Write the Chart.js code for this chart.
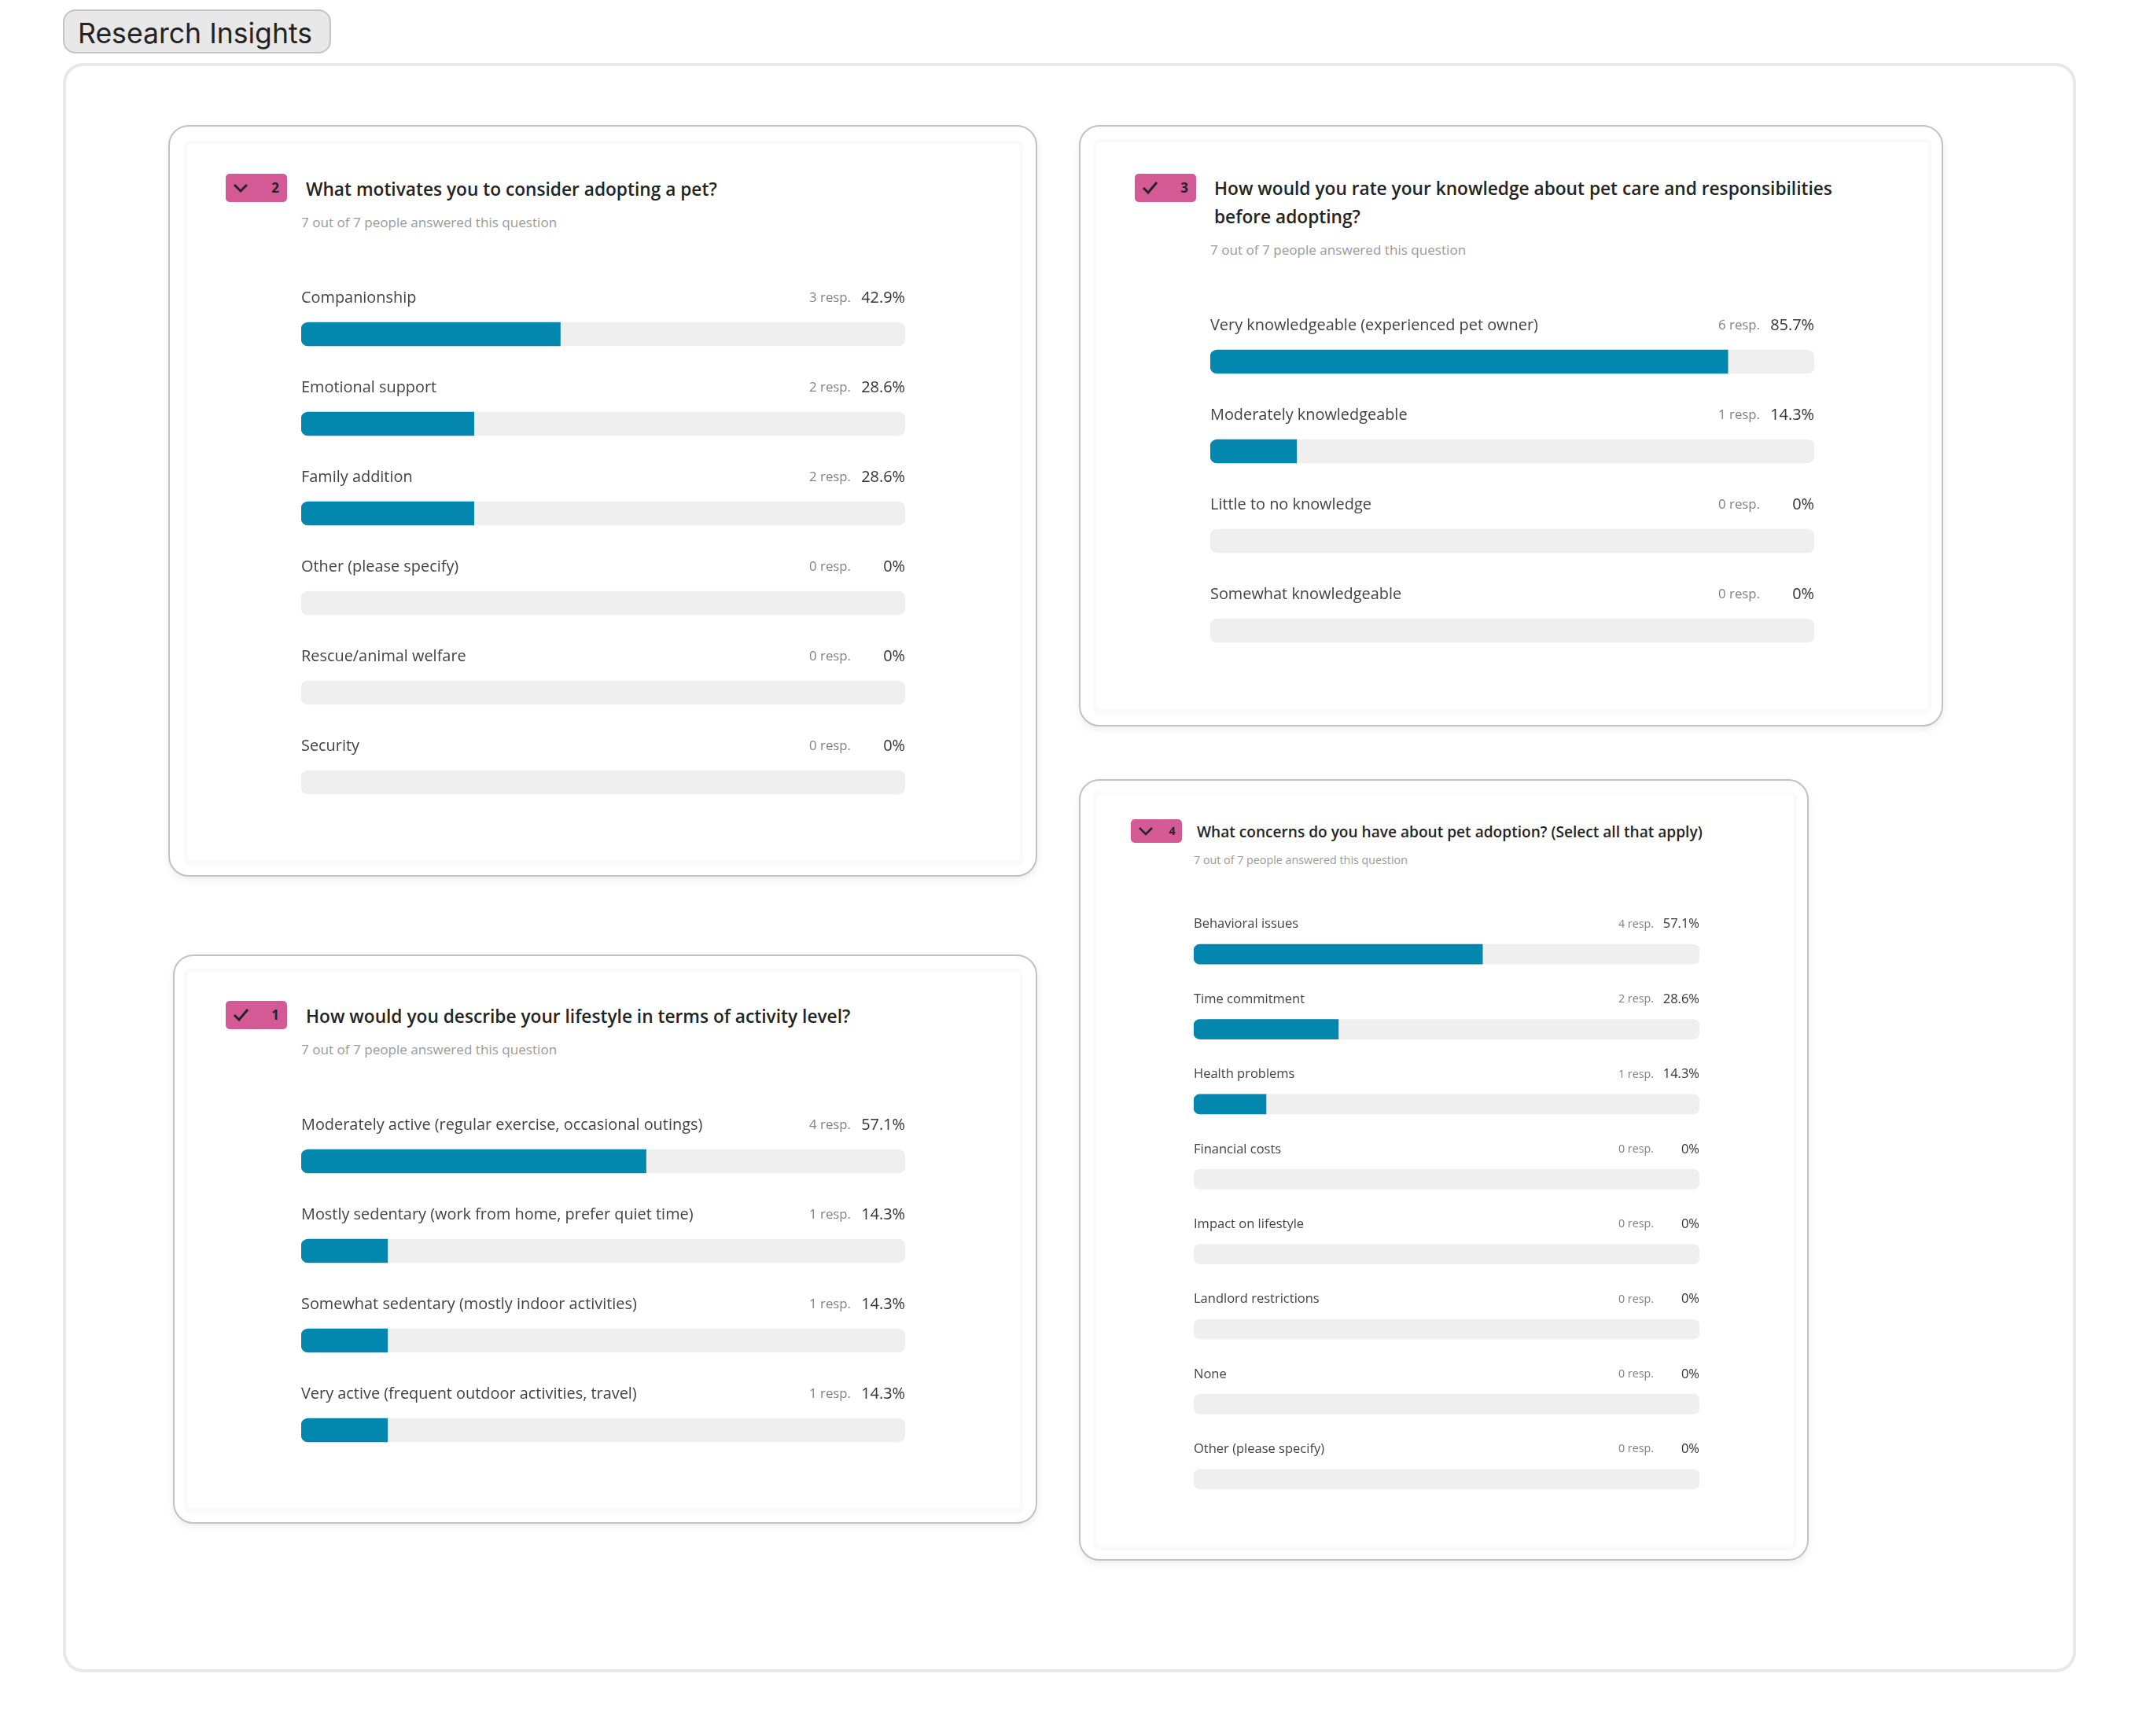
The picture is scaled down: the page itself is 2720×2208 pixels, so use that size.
<!DOCTYPE html>
<html>
<head>
<meta charset="utf-8">
<title>Research Insights</title>
<script src="https://cdn.jsdelivr.net/npm/chart.js@4"></script>
<style>
    html, body { margin: 0; padding: 0; background: #fff; width: 2720px; height: 2208px; overflow: hidden; }
    body { position: relative; font-family: "Open Sans", sans-serif; color: #242424; }
    .abs { position: absolute; box-sizing: border-box; }
    .pill { left: 80px; top: 12px; width: 341px; height: 56px; background: #e8e8e8; border: 2px solid #c4c4c4; border-radius: 16px;
        font-family: Inter, sans-serif; font-size: 35.6px; line-height: 57px; padding-left: 17px; color: #242424; white-space: nowrap; }
    .panel { left: 80px; top: 80px; width: 2560px; height: 2047px; border: 4px solid #e8e8e8; border-radius: 26px; }
    .card { border: 2px solid #c2c2c2; border-radius: 26px; background: #fff; box-shadow: 0 4px 10px rgba(0,0,0,.07); }
    .inner { background: #fff; border-radius: 4px; box-shadow: 0 0 0 4px #fafafa, 0 3px 3px 3px rgba(0,0,0,.03); }
    .badge { background: #d45a96; border-radius: 5px; color: #242424; font-weight: 700; }
    .badge svg { position: absolute; left: 0; top: 0; }
    .badge span { position: absolute; text-align: right; }
    .qtitle { font-weight: 600; color: #242424; }
    .sub { color: #9a9a9a; white-space: nowrap; }
    canvas { position: absolute; }
</style>
</head>
<body>
<div class="abs pill">Research Insights</div>
<div class="abs panel"></div>

<script>
    // Question 2
    var q2Title = "What motivates you to consider adopting a pet?";
    var q2Categories = ["Companionship", "Emotional support", "Family addition", "Other (please specify)", "Rescue/animal welfare", "Security"];
    var q2Responses = [3, 2, 2, 0, 0, 0];
    var q2Percent = [42.9, 28.6, 28.6, 0, 0, 0];
    var q2Track = [100, 100, 100, 100, 100, 100];

    // Question 3
    var q3Title = "How would you rate your knowledge about pet care and responsibilities before adopting?";
    var q3Categories = ["Very knowledgeable (experienced pet owner)", "Moderately knowledgeable", "Little to no knowledge", "Somewhat knowledgeable"];
    var q3Responses = [6, 1, 0, 0];
    var q3Percent = [85.7, 14.3, 0, 0];
    var q3Track = [100, 100, 100, 100];

    // Question 4
    var q4Title = "What concerns do you have about pet adoption? (Select all that apply)";
    var q4Categories = ["Behavioral issues", "Time commitment", "Health problems", "Financial costs", "Impact on lifestyle", "Landlord restrictions", "None", "Other (please specify)"];
    var q4Responses = [4, 2, 1, 0, 0, 0, 0, 0];
    var q4Percent = [57.1, 28.6, 14.3, 0, 0, 0, 0, 0];
    var q4Track = [100, 100, 100, 100, 100, 100, 100, 100];

    // Question 1
    var q1Title = "How would you describe your lifestyle in terms of activity level?";
    var q1Categories = ["Moderately active (regular exercise, occasional outings)", "Mostly sedentary (work from home, prefer quiet time)", "Somewhat sedentary (mostly indoor activities)", "Very active (frequent outdoor activities, travel)"];
    var q1Responses = [4, 1, 1, 1];
    var q1Percent = [57.1, 14.3, 14.3, 14.3];
    var q1Track = [100, 100, 100, 100];

    var answered = "7 out of 7 people answered this question";

    function el(cls, box, parent) {
        var d = document.createElement("div");
        d.className = "abs " + cls;
        d.style.left = box[0] + "px";
        d.style.top = box[1] + "px";
        d.style.width = (box[2] - box[0]) + "px";
        d.style.height = (box[3] - box[1]) + "px";
        (parent || document.body).appendChild(d);
        return d;
    }

    function textLine(cls, text, x, centerY, lineH, size, width) {
        var d = document.createElement("div");
        d.className = "abs " + cls;
        d.textContent = text;
        d.style.left = x + "px";
        d.style.top = (centerY - lineH / 2) + "px";
        d.style.lineHeight = lineH + "px";
        d.style.fontSize = size + "px";
        if (width) d.style.width = width + "px";
        document.body.appendChild(d);
    }

    function addBadge(box, number, checked, s) {
        var b = el("badge", box);
        var h = box[3] - box[1];
        var icon = checked ? "M11 " + (h / 2) + " L17 " + (h / 2 + 6) + " L28 " + (h / 2 - 7) : "M11 " + (h / 2 - 4) + " L19 " + (h / 2 + 4) + " L27 " + (h / 2 - 4);
        b.innerHTML = '<svg width="60" height="' + h + '"><path d="' + icon + '" fill="none" stroke="#242424" stroke-width="' + 3 * s + '"/></svg>' +
            '<span style="right:' + 10 * s + 'px;top:0;line-height:' + h + 'px;font-size:' + 17 * s + 'px">' + number + '</span>';
    }

    // one canvas per question, the bars come from the scales
    function addChart(cfg) {
        var cv = document.createElement("canvas");
        var w = cfg.right - cfg.left;
        var h = cfg.pitch * cfg.categories.length;
        cv.width = w;
        cv.height = h;
        cv.style.left = cfg.left + "px";
        cv.style.top = cfg.top + "px";
        document.body.appendChild(cv);

        new Chart(cv.getContext("2d"), {
            type: "bar",
            data: {
                labels: cfg.categories,
                datasets: [
                    {
                        data: cfg.values,
                        // a rounded bar of zero width still leaves a sliver
                        backgroundColor: function (ctx) { return ctx.raw > 0 ? "#0487af" : "transparent"; },
                        barThickness: cfg.thick,
                        grouped: false,
                        order: 1,
                        borderSkipped: false,
                        borderRadius: { topLeft: cfg.radius, bottomLeft: cfg.radius, topRight: 0, bottomRight: 0 }
                    },
                    {
                        data: cfg.track,
                        backgroundColor: "#efefef",
                        barThickness: cfg.thick,
                        grouped: false,
                        order: 2,
                        borderSkipped: false,
                        borderRadius: cfg.radius
                    }
                ]
            },
            options: {
                indexAxis: "y",
                responsive: false,
                animation: false,
                devicePixelRatio: 1,
                layout: { padding: 0 },
                scales: {
                    x: { display: false, min: 0, max: 100 },
                    y: { display: false }
                },
                plugins: { legend: { display: false }, tooltip: { enabled: false } }
            },
            plugins: [{
                id: "rowText",
                afterDatasetsDraw: function (chart) {
                    var c = chart.ctx;
                    var x = chart.scales.x;
                    var y = chart.scales.y;
                    c.save();
                    c.textBaseline = "middle";
                    cfg.categories.forEach(function (name, i) {
                        var ty = y.getPixelForValue(i) - cfg.textUp;
                        c.textAlign = "left";
                        c.fillStyle = "#424242";
                        c.font = cfg.labelSize + 'px "Open Sans"';
                        c.fillText(name, x.getPixelForValue(0), ty);
                        c.textAlign = "right";
                        c.fillStyle = "#808080";
                        c.font = cfg.respSize + 'px "Open Sans"';
                        c.fillText(cfg.responses[i] + " resp.", x.getPixelForValue(100) - cfg.respGap, ty);
                        c.fillStyle = "#333333";
                        c.font = cfg.labelSize + 'px "Open Sans"';
                        c.fillText(cfg.values[i] + "%", x.getPixelForValue(100), ty);
                    });
                    c.restore();
                }
            }]
        });
    }

    function addCard(cfg) {
        el("card", cfg.outer);
        el("inner", cfg.inner);
        addBadge(cfg.badge, cfg.number, cfg.checked, cfg.scale);
        textLine("qtitle", cfg.title, cfg.titleX, cfg.titleY, cfg.titleLine, cfg.titleSize, cfg.titleWidth);
        textLine("sub", answered, cfg.left, cfg.subY, 26, cfg.subSize);
        addChart(cfg);
    }

    addCard({
        number: 2, checked: false, scale: 1, title: q2Title,
        categories: q2Categories, responses: q2Responses, values: q2Percent, track: q2Track,
        outer: [214, 159, 1319, 1115], inner: [238, 183, 1297, 1094], badge: [287, 221, 365, 257],
        titleX: 389, titleY: 241, titleLine: 36, titleSize: 22.7, subY: 283, subSize: 17.1,
        left: 383, right: 1151, top: 368, pitch: 114, thick: 30, radius: 9, textUp: 45.5, labelSize: 19.9, respSize: 16.8, respGap: 69
    });

    addCard({
        number: 3, checked: true, scale: 1, title: q3Title,
        categories: q3Categories, responses: q3Responses, values: q3Percent, track: q3Track,
        outer: [1372, 159, 2471, 924], inner: [1394, 181, 2452, 902], badge: [1443, 221, 1521, 257],
        titleX: 1544, titleY: 240, titleLine: 36, titleSize: 22.7, titleWidth: 800, subY: 318, subSize: 17.1,
        left: 1539, right: 2307, top: 403, pitch: 114, thick: 30, radius: 9, textUp: 45.5, labelSize: 19.9, respSize: 16.8, respGap: 69
    });

    addCard({
        number: 4, checked: false, scale: 0.84, title: q4Title,
        categories: q4Categories, responses: q4Responses, values: q4Percent, track: q4Track,
        outer: [1372, 991, 2300, 1985], inner: [1394, 1011, 2281, 1965], badge: [1438, 1042, 1503, 1072],
        titleX: 1522, titleY: 1058, titleLine: 30, titleSize: 19.1, subY: 1094, subSize: 14.3,
        left: 1518, right: 2161, top: 1165.5, pitch: 95.4, thick: 25, radius: 8, textUp: 38, labelSize: 16.5, respSize: 14.3, respGap: 58
    });

    addCard({
        number: 1, checked: true, scale: 1, title: q1Title,
        categories: q1Categories, responses: q1Responses, values: q1Percent, track: q1Track,
        outer: [220, 1214, 1319, 1938], inner: [238, 1236, 1297, 1918], badge: [287, 1273, 365, 1309],
        titleX: 389, titleY: 1293, titleLine: 36, titleSize: 22.7, subY: 1335, subSize: 17.1,
        left: 383, right: 1151, top: 1420, pitch: 114, thick: 30, radius: 9, textUp: 45.5, labelSize: 19.9, respSize: 16.8, respGap: 69
    });
</script>
</body>
</html>
